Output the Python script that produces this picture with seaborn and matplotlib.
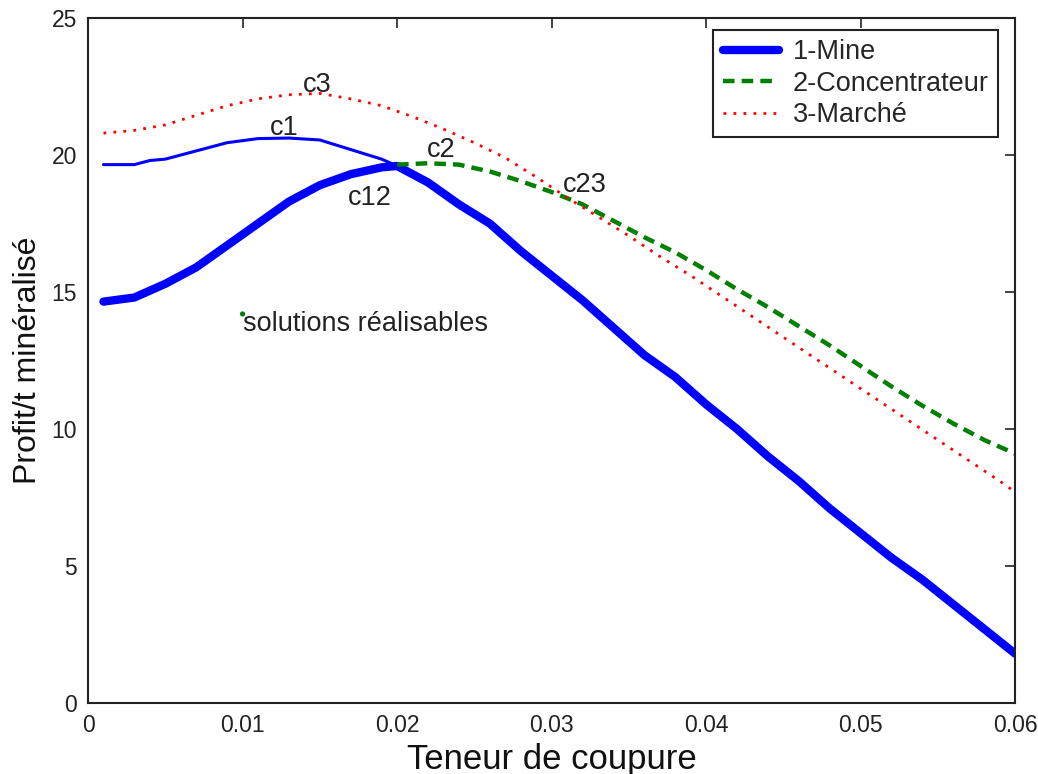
"""
plot.py

Profit par tonne minéralisée selon la teneur de coupure (mine, concentrateur, marché).
"""

import numpy as np
import pandas as pd
import seaborn as sns
import matplotlib.pyplot as plt


# Courbe 1 - Mine (trait épais, profil complet)
mine_x = [0.001, 0.003, 0.005, 0.007, 0.009, 0.011, 0.013, 0.015, 0.017, 0.019,
          0.020, 0.022, 0.024, 0.026, 0.028, 0.030, 0.032, 0.034, 0.036, 0.038,
          0.040, 0.042, 0.044, 0.046, 0.048, 0.050, 0.052, 0.054, 0.056, 0.058,
          0.060]
mine_y = [14.65, 14.8, 15.3, 15.9, 16.7, 17.5, 18.3, 18.9, 19.3, 19.55,
          19.6, 19.0, 18.2, 17.5, 16.5, 15.6, 14.7, 13.7, 12.7, 11.9,
          10.9, 10.0, 9.0, 8.1, 7.1, 6.2, 5.3, 4.5, 3.6, 2.7,
          1.8]

# Courbe c1 (trait fin, jusqu'à c12)
c1_x = [0.001, 0.003, 0.004, 0.005, 0.007, 0.009, 0.011, 0.013, 0.015, 0.017,
        0.019, 0.020]
c1_y = [19.65, 19.65, 19.8, 19.85, 20.15, 20.45, 20.6, 20.62, 20.55, 20.2,
        19.85, 19.6]

# Courbe 2 - Concentrateur
conc_x = [0.020, 0.022, 0.024, 0.026, 0.028, 0.030, 0.032, 0.034, 0.036, 0.038,
          0.040, 0.042, 0.044, 0.046, 0.048, 0.050, 0.052, 0.054, 0.056, 0.058,
          0.060]
conc_y = [19.65, 19.7, 19.65, 19.4, 19.05, 18.65, 18.2, 17.6, 17.0, 16.45,
          15.8, 15.1, 14.45, 13.75, 13.05, 12.3, 11.55, 10.85, 10.2, 9.6,
          9.1]

# Courbe 3 - Marché
marche_x = [0.001, 0.003, 0.005, 0.007, 0.009, 0.011, 0.013, 0.015, 0.017, 0.019,
            0.021, 0.023, 0.025, 0.027, 0.029, 0.031, 0.033, 0.035, 0.037, 0.039,
            0.041, 0.043, 0.045, 0.047, 0.049, 0.051, 0.053, 0.055, 0.057, 0.059,
            0.060]
marche_y = [20.8, 20.9, 21.1, 21.45, 21.8, 22.05, 22.2, 22.25, 22.05, 21.8,
            21.4, 20.95, 20.45, 19.9, 19.2, 18.45, 17.75, 17.05, 16.3, 15.6,
            14.85, 14.1, 13.35, 12.6, 11.85, 11.1, 10.35, 9.6, 8.85, 8.1,
            7.7]

# Annotations (texte, x, y)
point_labels = ["c3", "c1", "c2", "c12", "c23"]
point_x = [0.0139, 0.0118, 0.0219, 0.0168, 0.0307]
point_y = [22.55, 21.0, 20.2, 18.45, 18.9]

feasible_x = [0.010]
feasible_y = [14.2]
feasible_label = "solutions réalisables"

x_ticks = [0, 0.01, 0.02, 0.03, 0.04, 0.05, 0.06]
y_ticks = [0, 5, 10, 15, 20, 25]


def main():
    sns.set_style("white")
    plt.rcParams["font.family"] = ["Liberation Sans", "DejaVu Sans"]

    fig = plt.figure(figsize=(10.38, 7.74), dpi=100)
    ax = fig.add_axes([0.0848, 0.0917, 0.8932, 0.885])

    mine = pd.DataFrame({"x": mine_x, "y": mine_y})
    c1 = pd.DataFrame({"x": c1_x, "y": c1_y})
    conc = pd.DataFrame({"x": conc_x, "y": conc_y})
    marche = pd.DataFrame({"x": marche_x, "y": marche_y})

    sns.lineplot(data=c1, x="x", y="y", color="#0000ff", linewidth=2.2,
                 ax=ax, legend=False)
    sns.lineplot(data=mine, x="x", y="y", color="#0000ff", linewidth=6,
                 solid_capstyle="round", label="1-Mine", ax=ax)
    sns.lineplot(data=conc, x="x", y="y", color="#008000", linewidth=3.2,
                 linestyle=(0, (2.6, 1.6)), label="2-Concentrateur", ax=ax)
    sns.lineplot(data=marche, x="x", y="y", color="#ff0000", linewidth=2,
                 linestyle=(0, (1, 2.6)), label="3-Marché", ax=ax)

    sns.scatterplot(x=feasible_x, y=feasible_y, color="#008000", s=14,
                    edgecolor="none", ax=ax, legend=False)
    ax.text(feasible_x[0], 13.85, feasible_label, fontsize=19.5,
            ha="left", va="center", color="#222222")

    for label, px, py in zip(point_labels, point_x, point_y):
        ax.text(px, py, label, fontsize=19.5, ha="left", va="center",
                color="#222222")

    ax.set_xlim(0, 0.06)
    ax.set_ylim(0, 25)
    ax.set_xticks(x_ticks)
    ax.set_xticklabels(["0", "0.01", "0.02", "0.03", "0.04", "0.05", "0.06"])
    ax.set_yticks(y_ticks)
    ax.tick_params(direction="in", top=True, right=True, length=7,
                   width=1.2, labelsize=16.5, colors="#222222", pad=8)
    for spine in ax.spines.values():
        spine.set_color("#222222")
        spine.set_linewidth(1.5)

    ax.set_xlabel("Teneur de coupure", fontsize=25, color="#111111",
                  labelpad=4)
    ax.set_ylabel("Profit/t minéralisé", fontsize=23, color="#111111",
                  labelpad=6)

    leg = ax.legend(loc="upper right", bbox_to_anchor=(0.982, 0.983),
                    borderaxespad=0, fontsize=19.5, frameon=True,
                    fancybox=False, framealpha=1, edgecolor="#222222",
                    handlelength=2.1, handletextpad=0.5,
                    labelspacing=0.2, borderpad=0.35)
    leg.get_frame().set_linewidth(1.5)

    plt.savefig("out.png", dpi=100)


if __name__ == "__main__":
    main()
